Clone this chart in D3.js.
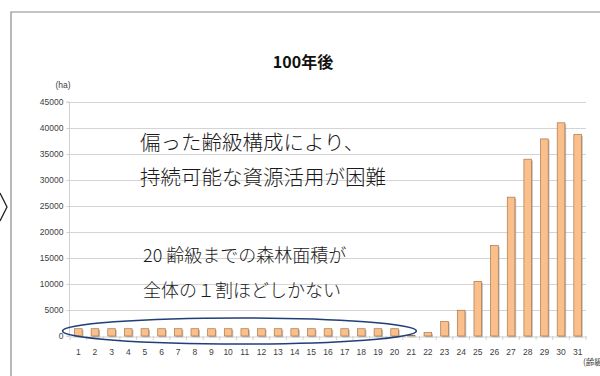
<!DOCTYPE html>
<html><head><meta charset="utf-8">
<script src="https://cdn.jsdelivr.net/npm/d3@7"></script>
<style>
html,body{margin:0;padding:0;background:#fff;}
svg{display:block;}
</style></head>
<body>
<svg id="c" width="600" height="376"></svg>
<script>
const categories = d3.range(1, 32).map(String);
const areas = [1400,1400,1400,1400,1400,1400,1400,1400,1400,1400,1400,1400,1400,1400,1400,1400,1400,1400,1400,1400,
               100,650,2800,4950,10500,17400,26700,34000,37900,41000,38750];
const yTicks = [0,5000,10000,15000,20000,25000,30000,35000,40000,45000];
const title = "100年後";
const yUnit = "(ha)";
const xUnit = "(齢級)";
const notes1 = ["偏った齢級構成により、", "持続可能な資源活用が困難"];
const notes2 = ["20 齢級までの森林面積が", "全体の１割ほどしかない"];

(function(){
const svg = d3.select("#c");
const pL = 70, pR = 586, pT = 102, pB = 336;
const x = d3.scaleBand().domain(categories).range([pL, pR]).paddingInner(0.54).paddingOuter(0.27);
const y = d3.scaleLinear().domain([0, 45000]).range([pB, pT]);
const tickFont = "'Liberation Sans Narrow','Liberation Sans',sans-serif";
const jpFont = "'Noto Sans CJK JP','Noto Sans',sans-serif";

// frame
svg.append("path").attr("d", "M11,376 L11,12 L600,12").attr("fill","none").attr("stroke","#8a8a8a").attr("stroke-width",1.2);
// chevron
svg.append("path").attr("d","M0,193 L7,207 L0,221").attr("fill","none").attr("stroke","#222").attr("stroke-width",1.3);

// title
svg.append("text").attr("x",303).attr("y",68).attr("text-anchor","middle")
  .attr("font-family",jpFont).attr("font-weight","bold").attr("font-size",16).attr("fill","#111").text(title);

// gridlines
svg.append("g").selectAll("line").data(yTicks.filter(d=>d>0)).join("line")
  .attr("x1",pL).attr("x2",pR).attr("y1",d=>Math.round(y(d))+0.5).attr("y2",d=>Math.round(y(d))+0.5)
  .attr("stroke","#d4d4d4").attr("stroke-width",1);

// y axis
const ya = svg.append("g").attr("transform",`translate(${pL-0.5},0)`)
  .call(d3.axisLeft(y).tickValues(yTicks).tickSize(3).tickFormat(d3.format("d")));
ya.select(".domain").attr("stroke","#d0d0d0").attr("d",`M-3,${pB}H0V${pT}H-3`);
ya.selectAll(".tick line").attr("stroke","#d0d0d0");
ya.selectAll("text").attr("font-family",tickFont).attr("font-size",8.5).attr("fill","#404040").attr("x",-6);

// x axis
const xa = svg.append("g").attr("transform",`translate(0,${pB+0.5})`)
  .call(d3.axisBottom(x).tickSize(0).tickPadding(12));
xa.select(".domain").attr("stroke","#d0d0d0");
xa.selectAll("text").attr("font-family",tickFont).attr("font-size",8.5).attr("fill","#404040");
// category separator ticks
const step = x.step();
svg.append("g").selectAll("line").data(d3.range(0, categories.length+1)).join("line")
  .attr("x1",i=>pL+i*step).attr("x2",i=>pL+i*step)
  .attr("y1",pB).attr("y2",pB+4).attr("stroke","#d0d0d0");

// bars: shadow then bar
const bars = svg.append("g");
bars.selectAll("rect.sh").data(areas).join("rect").attr("class","sh")
  .attr("x",(d,i)=>x(categories[i])+1.3).attr("y",d=>y(d)+1.3)
  .attr("width",x.bandwidth()).attr("height",d=>pB-y(d))
  .attr("fill","#9a9a9a").attr("opacity",0.6);
bars.selectAll("rect.b").data(areas).join("rect").attr("class","b")
  .attr("x",(d,i)=>x(categories[i])).attr("y",d=>y(d))
  .attr("width",x.bandwidth()).attr("height",d=>pB-y(d))
  .attr("fill","#fbbf8b").attr("stroke","#a8764a").attr("stroke-width",0.7);

// units
svg.append("text").attr("x",63).attr("y",88).attr("text-anchor","middle")
  .attr("font-family",tickFont).attr("font-size",8.5).attr("fill","#404040").text(yUnit);
svg.append("text").attr("x",583).attr("y",365)
  .attr("font-family",jpFont).attr("font-size",8.5).attr("fill","#404040").text(xUnit);

// notes
svg.append("g").selectAll("text").data(notes1).join("text")
  .attr("x",140).attr("y",(d,i)=>150+i*35)
  .attr("font-family",jpFont).attr("font-weight",300).attr("font-size",20.5).attr("fill","#1a1a1a").text(d=>d);
svg.append("g").selectAll("text").data(notes2).join("text")
  .attr("x",143).attr("y",(d,i)=>262+i*35)
  .attr("font-family",jpFont).attr("font-weight",300).attr("font-size",18).attr("fill","#1a1a1a").text(d=>d);

// ellipse around first 20
const ex0 = x("1") - 12, ex1 = x("20") + x.bandwidth() + 18;
svg.append("ellipse").attr("cx",(ex0+ex1)/2).attr("cy",331).attr("rx",(ex1-ex0)/2).attr("ry",13)
  .attr("fill","none").attr("stroke","#1f3f78").attr("stroke-width",1.6);
})();
</script>
</body></html>
